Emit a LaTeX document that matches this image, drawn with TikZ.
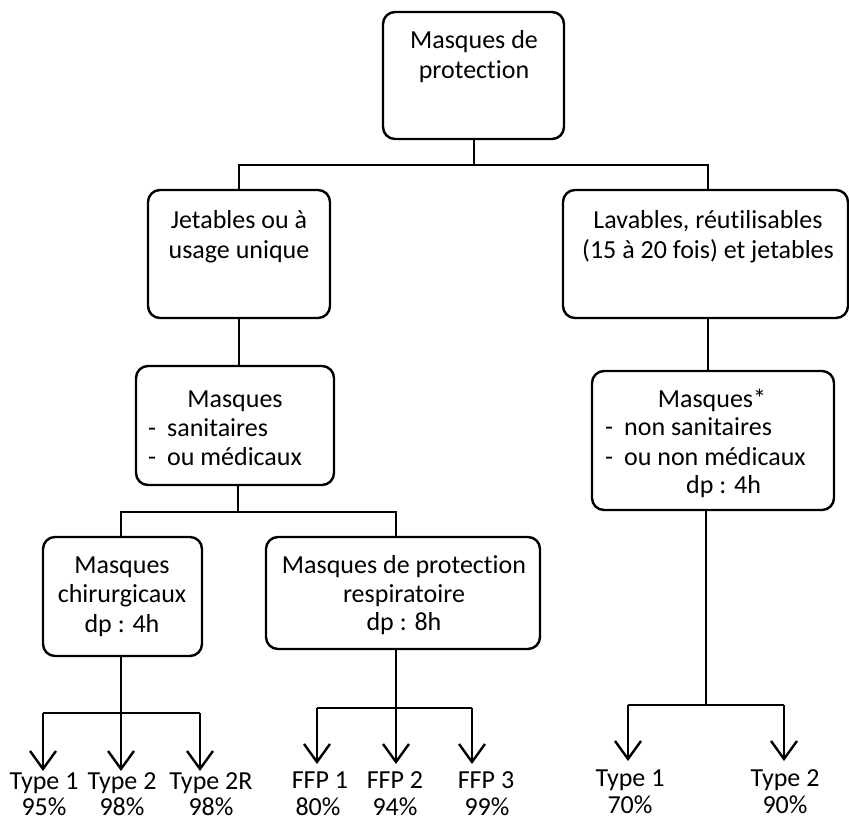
\documentclass[tikz,border=0pt]{standalone}
\usepackage{fontspec}
\setmainfont{Carlito}[Ligatures={NoCommon}]
\usetikzlibrary{arrows.meta}
\begin{document}
\begin{tikzpicture}[x=1pt,y=-1pt,
 box/.style={draw,line width=2.4pt,rounded corners=12pt,inner sep=0pt,outer sep=0pt},
 txt/.style={anchor=base,inner sep=0pt,font=\fontsize{26}{29}\selectfont},
 txl/.style={anchor=base west,inner sep=0pt,font=\fontsize{26}{29}\selectfont},
 conn/.style={line width=2.8pt},
 thinconn/.style={line width=1.3pt},
 arr/.style={line width=2.4pt,-{Straight Barb[length=18pt,width=26pt,line width=2.4pt]}}]
\useasboundingbox (0,0) rectangle (849,820);
\fill[white] (0,0) rectangle (849,820);

% boxes
\node[box,minimum width=181pt,minimum height=127pt] (top) at (473.5,75.5) {};
\node[box,minimum width=182pt,minimum height=128pt] (jet) at (239,254) {};
\node[box,minimum width=285pt,minimum height=128pt] (lav) at (705.5,254) {};
\node[box,minimum width=198pt,minimum height=119pt] (msq) at (235,425.5) {};
\node[box,minimum width=159pt,minimum height=119pt] (chir) at (122.5,596.5) {};
\node[box,minimum width=274pt,minimum height=112pt] (prot) at (403,593) {};
\node[box,minimum width=242pt,minimum height=139pt] (msqs) at (713,440.5) {};

% box texts
\node[txt] (t1a) at (474,48) {Masques de};
\node[txt] (t1b) at (474,78) {protection};
\node[txt] (j1) at (239,228) {Jetables ou à};
\node[txt] (j2) at (239,258) {usage unique};
\node[txt] (l1) at (708,228) {Lavables, réutilisables};
\node[txt] (l2) at (708,258) {(15 à 20 fois) et jetables};
\node[txt] (m1) at (235,407) {Masques};
\node[txl] (m2) at (148,436) {-\hspace{11pt}sanitaires};
\node[txl] (m3) at (148,465) {-\hspace{11pt}ou médicaux};
\node[txt] (c1t) at (122,573) {Masques};
\node[txt] (c2t) at (122,602) {chirurgicaux};
\node[txt] (c3t) at (122,632) {dp : 4h};
\node[txt] (p1t) at (404,573) {Masques de protection};
\node[txt] (p2t) at (404,602) {respiratoire};
\node[txt] (p3t) at (404,630) {dp : 8h};
\node[txt] (s1) at (712,407) {Masques*};
\node[txl] (s2) at (605,435) {-\hspace{11pt}non sanitaires};
\node[txl] (s3) at (605,465) {-\hspace{11pt}ou non médicaux};
\node[txl] (s4) at (686,493) {dp : 4h};

% level 1 connectors
\coordinate (bus1) at (474,165);
\coordinate (lavx) at (708,0);
\draw[conn] (top.south -| bus1) -- (bus1);
\draw[conn] (jet.north) |- (bus1) -| (lav.north -| lavx);
\draw[conn] (jet.south) -- (jet.south |- msq.north);
\draw[conn] (lav.south -| lavx) -- (msqs.north -| lavx);

% level 2 connectors
\coordinate (bus2) at (238,512);
\coordinate (px) at (396,0);
\draw[conn] (msq.south -| bus2) -- (bus2);
\draw[conn] (chir.north -| 121,0) |- (bus2) -| (prot.north -| px);

% chirurgicaux arrows
\coordinate (cb) at (121,713);
\coordinate (cl) at (43,713);
\coordinate (cr) at (200,713);
\coordinate (ct1) at (43,771);
\coordinate (ct2) at (121,771);
\coordinate (ct3) at (200,771);
\draw[conn] (chir.south -| cb) -- (cb);
\draw[conn] (cl) -- (cr);
\draw[arr] (cl) -- (ct1);
\draw[arr] (cb) -- (ct2);
\draw[arr] (cr) -- (ct3);

% FFP arrows
\coordinate (pb) at (396,708);
\coordinate (pl) at (317,708);
\coordinate (pr) at (472,708);
\coordinate (pt1) at (317,764);
\coordinate (pt2) at (396,764);
\coordinate (pt3) at (472,764);
\draw[conn] (prot.south -| pb) -- (pb);
\draw[conn] (pl) -- (pr);
\draw[arr] (pl) -- (pt1);
\draw[arr] (pb) -- (pt2);
\draw[arr] (pr) -- (pt3);

% right arrows
\coordinate (rm) at (706,647);
\coordinate (rb) at (706,705);
\coordinate (rl) at (628,705);
\coordinate (rr) at (784,705);
\coordinate (rt1) at (628,761);
\coordinate (rt2) at (784,761);
\draw[thinconn] (msqs.south -| rm) -- (rm);
\draw[conn] (rm) -- (rb);
\draw[conn] (rl) -- (rr);
\draw[arr] (rl) -- (rt1);
\draw[arr] (rr) -- (rt2);

% labels
\node[txt] (a1) at (44,789) {Type 1};
\node[txt,text depth=0pt] (a1p) at (44,815) {95\%};
\node[txt] (a2) at (122,789) {Type 2};
\node[txt,text depth=0pt] (a2p) at (122,815) {98\%};
\node[txt] (a3) at (211,789) {Type 2R};
\node[txt,text depth=0pt] (a3p) at (211,815) {98\%};
\node[txt] (f1) at (320,788) {FFP 1};
\node[txt] (f1p) at (318,815) {80\%};
\node[txt] (f2) at (395,788) {FFP 2};
\node[txt] (f2p) at (395,815) {94\%};
\node[txt] (f3) at (486,788) {FFP 3};
\node[txt] (f3p) at (487,815) {99\%};
\node[txt] (r1) at (630,786) {Type 1};
\node[txt] (r1p) at (630,813) {70\%};
\node[txt] (r2) at (785,786) {Type 2};
\node[txt] (r2p) at (785,813) {90\%};
\end{tikzpicture}
\end{document}
